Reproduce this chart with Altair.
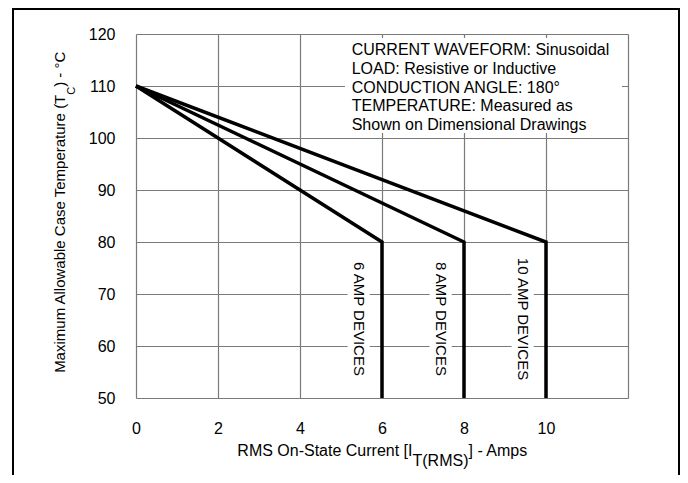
import altair as alt
import pandas as pd

# ---- data ----
amps_rating = [6, 8, 10]
series_names = ["6 AMP DEVICES", "8 AMP DEVICES", "10 AMP DEVICES"]
start_current = [0, 0, 0]
start_temp = [110, 110, 110]
knee_temp = [80, 80, 80]
end_temp = [50, 50, 50]

x_ticks = [0, 2, 4, 6, 8, 10, 12]
y_ticks = [50, 60, 70, 80, 90, 100, 110, 120]

note_lines = [
    "CURRENT WAVEFORM: Sinusoidal",
    "LOAD: Resistive or Inductive",
    "CONDUCTION ANGLE: 180\u00b0",
    "TEMPERATURE: Measured as",
    "Shown on Dimensional Drawings",
]

FONT = "Liberation Sans"

rows = []
for name, r, x0, t0, tk, te in zip(series_names, amps_rating, start_current,
                                     start_temp, knee_temp, end_temp):
    rows.append(dict(series=name, order=0, amps=x0, temp=t0))
    rows.append(dict(series=name, order=1, amps=r, temp=tk))
    rows.append(dict(series=name, order=2, amps=r, temp=te))
curves = pd.DataFrame(rows)
labels = pd.DataFrame({"series": series_names, "rating": amps_rating})
notes = pd.DataFrame({"line": note_lines, "i": list(range(len(note_lines)))})
one = pd.DataFrame({"k": [0]})

x_scale = alt.Scale(domain=[0, 12], nice=False, zero=False)
y_scale = alt.Scale(domain=[50, 120], nice=False, zero=False)

x_axis = alt.Axis(values=x_ticks, title=None, grid=True, ticks=False, tickSize=0,
                  domain=False, labelExpr="datum.value == 12 ? '' : datum.label",
                  labelFontSize=16, labelFont=FONT, labelColor="black",
                  labelBaseline="alphabetic", labelPadding=35, labelFlush=False,
                  gridColor="#7a7a7a", gridWidth=1.2)
y_axis = alt.Axis(values=y_ticks, title=None, grid=True, ticks=False, tickSize=0,
                  domain=False, labelFontSize=16, labelFont=FONT, labelColor="black",
                  labelPadding=21, labelFlush=False,
                  gridColor="#7a7a7a", gridWidth=1.2)


def X(field):
    return alt.X(field, type="quantitative", scale=x_scale, axis=x_axis)


def Y(field):
    return alt.Y(field, type="quantitative", scale=y_scale, axis=y_axis)


# white backing of the note block
note_bg = alt.Chart(one).mark_rect(color="white").encode(
    x=alt.value(209), x2=alt.value(486), y=alt.value(4), y2=alt.value(99))

# white backing of the rotated device labels
label_bg = alt.Chart(labels).transform_calculate(
    bx0="datum.rating - 0.84", bx1="datum.rating - 0.30"
).mark_rect(color="white").encode(
    x=X("bx0"), x2=alt.X2("bx1"), y=alt.value(229), y2=alt.value(343))

lines = alt.Chart(curves).mark_line(
    color="black", strokeWidth=3.5, strokeJoin="miter", strokeCap="butt"
).encode(x=X("amps"), y=Y("temp"), detail="series:N", order="order:Q")

device_text = alt.Chart(labels).transform_calculate(
    lx="datum.rating - 0.57"
).mark_text(angle=90, align="center", baseline="middle", fontSize=15,
            font=FONT, color="black").encode(
    x=X("lx"), y=alt.value(285), text="series:N")

note_text = alt.Chart(notes).transform_calculate(
    py="21.3 + 18.6 * datum.i"
).mark_text(align="left", baseline="alphabetic", fontSize=16, font=FONT,
            color="black").encode(
    x=alt.value(215.7), y=alt.Y("py:Q", scale=None, axis=None), text="line:N")

# x axis title with subscript
xt_a = alt.Chart(one).mark_text(align="right", baseline="alphabetic", fontSize=16,
                                font=FONT, color="black", text="RMS On-State Current [I"
                                ).encode(x=alt.value(276.5), y=alt.value(422))
xt_b = alt.Chart(one).mark_text(align="left", baseline="alphabetic", fontSize=16,
                                font=FONT, color="black", text="T(RMS)"
                                ).encode(x=alt.value(276.5), y=alt.value(432))
xt_c = alt.Chart(one).mark_text(align="left", baseline="alphabetic", fontSize=16,
                                font=FONT, color="black", text="] - Amps"
                                ).encode(x=alt.value(332.5), y=alt.value(422))

# y axis title with subscript (rotated)
yt_a = alt.Chart(one).mark_text(angle=270, align="right", baseline="alphabetic",
                                fontSize=15, font=FONT, color="black",
                                text="Maximum Allowable Case Temperature (T"
                                ).encode(x=alt.value(-71.5), y=alt.value(60.7))
yt_b = alt.Chart(one).mark_text(angle=270, align="left", baseline="alphabetic",
                                fontSize=11, font=FONT, color="black", text="C"
                                ).encode(x=alt.value(-61), y=alt.value(60.7))
yt_c = alt.Chart(one).mark_text(angle=270, align="left", baseline="alphabetic",
                                fontSize=15, font=FONT, color="black",
                                text=") - \u00b0C"
                                ).encode(x=alt.value(-71.5), y=alt.value(52.8))

# outer frame
frame_l = alt.Chart(one).mark_rule(color="black", strokeWidth=2).encode(
    x=alt.value(-123), y=alt.value(-26), y2=alt.value(441))
frame_r = alt.Chart(one).mark_rule(color="black", strokeWidth=2).encode(
    x=alt.value(543), y=alt.value(-26), y2=alt.value(441))
frame_t = alt.Chart(one).mark_rule(color="black", strokeWidth=2).encode(
    x=alt.value(-124), x2=alt.value(544), y=alt.value(-25))

chart = alt.layer(
    note_bg, label_bg, lines, device_text, note_text,
    xt_a, xt_b, xt_c, yt_a, yt_b, yt_c, frame_l, frame_r, frame_t
).properties(
    width=492, height=364,
    padding={"left": 128, "top": 26, "right": 52, "bottom": 77},
    autosize=alt.AutoSizeParams(type="none"),
).configure_view(
    stroke="#7a7a7a", strokeWidth=1.2
).configure(background="white")

chart.save("out.html", embed_options={"renderer": "svg", "actions": False})
